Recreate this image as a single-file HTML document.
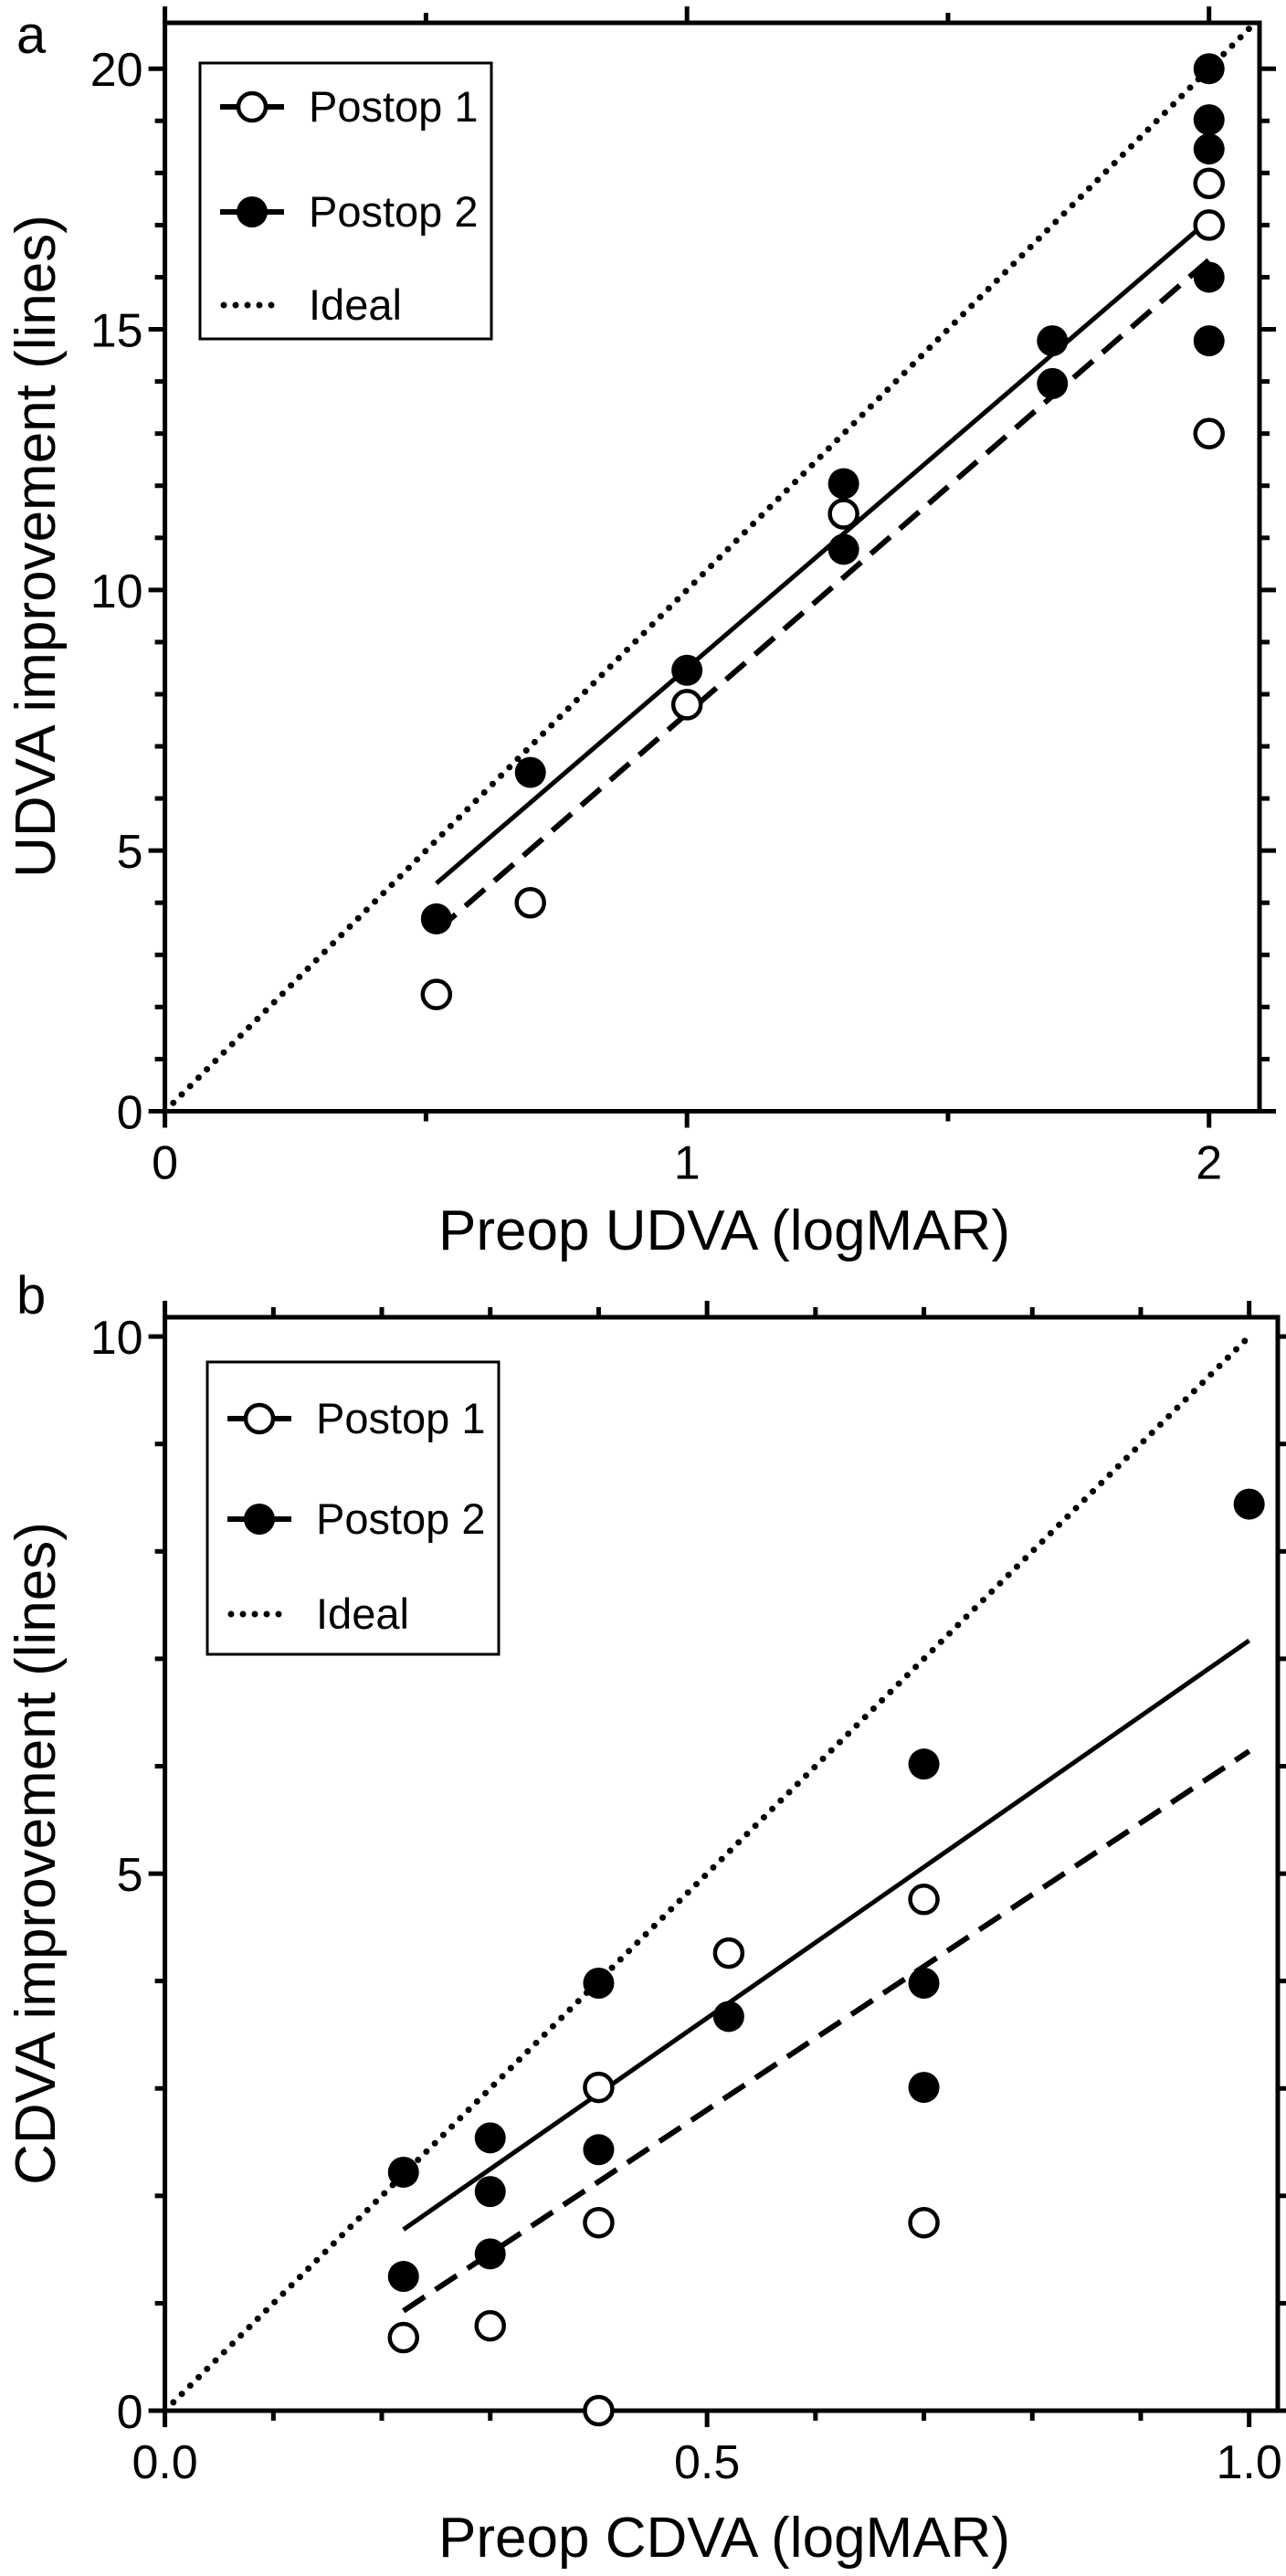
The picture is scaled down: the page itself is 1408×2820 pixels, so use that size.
<!DOCTYPE html>
<html><head><meta charset="utf-8"><style>
html,body{margin:0;padding:0;background:#fff}
svg{display:block}
text{font-family:"Liberation Sans",Arial,sans-serif;fill:#000}
</style></head><body>
<svg id="fig" width="1408" height="2820" viewBox="0 0 1408 2820" xmlns="http://www.w3.org/2000/svg"></svg>
<script>
// Panel a data
const aOpenX = [0.52, 0.7, 1.0, 1.3, 2, 2, 2];
const aOpenY = [2.24, 4.0, 7.8, 11.46, 17.8, 17.0, 13.0];
const aFillX = [0.52, 0.7, 1.0, 1.3, 1.3, 1.7, 1.7, 2, 2, 2, 2, 2];
const aFillY = [3.69, 6.5, 8.46, 12.04, 10.78, 14.78, 13.96, 20, 19.02, 18.46, 16.0, 14.78];
const aFitSolid = [8.6, -0.1];   // slope, intercept (Postop 2)
const aFitDash = [8.7, -1.07];   // slope, intercept (Postop 1)
const aXTicks = ["0", "1", "2"];
const aYTicks = ["0", "5", "10", "15", "20"];
// Panel b data
const bOpenX = [0.22, 0.3, 0.4, 0.4, 0.4, 0.52, 0.7, 0.7];
const bOpenY = [0.68, 0.79, 1.75, 3.01, 0, 4.26, 4.76, 1.75];
const bFillX = [0.22, 0.22, 0.3, 0.3, 0.3, 0.4, 0.4, 0.52, 0.7, 0.7, 0.7, 1.0];
const bFillY = [2.22, 1.25, 2.54, 2.04, 1.46, 3.98, 2.43, 3.67, 6.02, 3.98, 3.01, 8.44];
const bFitSolid = [7.03, 0.14];
const bFitDash = [6.68, -0.54];
const bXTicks = ["0.0", "0.5", "1.0"];
const bYTicks = ["0", "5", "10"];

const NS = "http://www.w3.org/2000/svg";
const svg = document.getElementById("fig");
function mk(tag, attrs, parent) {
  const e = document.createElementNS(NS, tag);
  for (const k in attrs) e.setAttribute(k, attrs[k]);
  (parent || svg).appendChild(e);
  return e;
}

function panel(cfg) {
  const g = mk("g", {});
  
  
  const sx = v => cfg.x0 + (v - cfg.xmin) / (cfg.xmax - cfg.xmin) * (cfg.x1 - cfg.x0);
  const sy = v => cfg.y0 - (v - cfg.ymin) / (cfg.ymax - cfg.ymin) * (cfg.y0 - cfg.y1);
  const fr = mk("rect", {x: cfg.x0, y: cfg.y1, width: cfg.x1 - cfg.x0, height: cfg.y0 - cfg.y1, fill: "none", stroke: "#000", "stroke-width": 5}, g);
  
  
  for (let v = cfg.xmin; v <= cfg.xmax + 1e-9; v += cfg.xMinor) {
    const major = Math.abs(v / cfg.xMajor - Math.round(v / cfg.xMajor)) < 1e-6;
    const L = major ? 18 : 11;
    const X = sx(v);
    const t1 = mk("line", {x1: X, x2: X, y1: cfg.y0, y2: cfg.y0 + L, stroke: "#000", "stroke-width": 5}, g);
    
    
    const t2 = mk("line", {x1: X, x2: X, y1: cfg.y1, y2: cfg.y1 - L, stroke: "#000", "stroke-width": 5}, g);
    
    
  }
  cfg.xTicks.forEach(s => {
    const t = mk("text", {x: sx(parseFloat(s)), y: cfg.y0 + 74, "font-size": 52, "text-anchor": "middle"}, g);
    t.textContent = s;
    
    
  });
  for (let v = cfg.ymin; v <= cfg.ymax + 1e-9; v += cfg.yMinor) {
    const major = Math.abs(v / cfg.yMajor - Math.round(v / cfg.yMajor)) < 1e-6;
    const L = major ? 18 : 11;
    const Y = sy(v);
    const t1 = mk("line", {x1: cfg.x0 - L, x2: cfg.x0, y1: Y, y2: Y, stroke: "#000", "stroke-width": 5}, g);
    
    
    const t2 = mk("line", {x1: cfg.x1, x2: cfg.x1 + L, y1: Y, y2: Y, stroke: "#000", "stroke-width": 5}, g);
    
    
  }
  cfg.yTicks.forEach(s => {
    const t = mk("text", {x: cfg.x0 - 24, y: sy(parseFloat(s)) + 19, "font-size": 52, "text-anchor": "end"}, g);
    t.textContent = s;
    
    
  });
  const id = mk("line", {x1: sx(0), y1: sy(0), x2: sx(cfg.idealEnd), y2: sy(cfg.idealEnd * cfg.idealSlope), stroke: "#000", "stroke-width": 7, "stroke-dasharray": "0 13", "stroke-linecap": "round"}, g);
  
  
  const fs = mk("line", {x1: sx(cfg.fitFrom), y1: sy(cfg.fitS[0] * cfg.fitFrom + cfg.fitS[1]), x2: sx(cfg.fitTo), y2: sy(cfg.fitS[0] * cfg.fitTo + cfg.fitS[1]), stroke: "#000", "stroke-width": 5}, g);
  
  
  const fd = mk("line", {x1: sx(cfg.fitFrom), y1: sy(cfg.fitD[0] * cfg.fitFrom + cfg.fitD[1]), x2: sx(cfg.fitTo), y2: sy(cfg.fitD[0] * cfg.fitTo + cfg.fitD[1]), stroke: "#000", "stroke-width": 6, "stroke-dasharray": "28 14"}, g);
  
  
  cfg.ox.forEach((xv, i) => {
    const c = mk("circle", {cx: sx(xv), cy: sy(cfg.oy[i]), r: 15, fill: "#fff", stroke: "#000", "stroke-width": 4.5}, g);
    
    
  });
  cfg.fx.forEach((xv, i) => {
    const c = mk("circle", {cx: sx(xv), cy: sy(cfg.fy[i]), r: 17, fill: "#000"}, g);
    
    
  });
  const lg = mk("g", {}, g);
  
  
  const L = cfg.leg;
  mk("rect", {x: L.x, y: L.y, width: L.w, height: L.h, fill: "#fff", stroke: "#000", "stroke-width": 3}, lg);
  const rows = [["Postop 1", "open"], ["Postop 2", "fill"], ["Ideal", "dot"]];
  rows.forEach((r, i) => {
    const Y = L.rows[i];
    const e = mk("g", {}, lg);
    
    
    if (r[1] === "dot") {
      mk("line", {x1: L.x + 26, x2: L.x + 90, y1: Y, y2: Y, stroke: "#000", "stroke-width": 7, "stroke-dasharray": "0 13", "stroke-linecap": "round"}, e);
    } else {
      mk("line", {x1: L.x + 22, x2: L.x + 92, y1: Y, y2: Y, stroke: "#000", "stroke-width": 6}, e);
      if (r[1] === "open") mk("circle", {cx: L.x + 57, cy: Y, r: 15, fill: "#fff", stroke: "#000", "stroke-width": 4.5}, e);
      else mk("circle", {cx: L.x + 57, cy: Y, r: 17, fill: "#000"}, e);
    }
    const t = mk("text", {x: L.x + 119, y: Y + 16, "font-size": 47}, e);
    t.textContent = r[0];
  });
  const xt = mk("text", {x: 793, y: cfg.xTitleY, "font-size": 62, "text-anchor": "middle"}, g);
  xt.textContent = cfg.xTitle;
  
  
  const yt = mk("text", {x: 0, y: 0, "font-size": 62, "text-anchor": "middle", transform: "translate(60," + cfg.yTitleC + ") rotate(-90)"}, g);
  yt.textContent = cfg.yTitle;
  
  
  const pl = mk("text", {x: 18, y: cfg.labelY, "font-size": 58}, g);
  pl.textContent = cfg.label;
  
  
}

panel({name: "panel-a-udva", x0: 180.6, x1: 1379, y0: 1216.5, y1: 25, xmin: 0, xmax: 2.0967, ymin: 0, ymax: 20.88,
  xMinor: 0.5, xMajor: 1, yMinor: 1, yMajor: 5, xTicks: aXTicks, yTicks: aYTicks,
  idealEnd: 2.09, idealSlope: 10, fitFrom: 0.52, fitTo: 2, fitS: aFitSolid, fitD: aFitDash,
  ox: aOpenX, oy: aOpenY, fx: aFillX, fy: aFillY,
  leg: {x: 219, y: 69, w: 319, h: 302, rows: [117, 232, 334]},
  xTitle: "Preop UDVA (logMAR)", xTitleY: 1368, yTitle: "UDVA improvement (lines)", yTitleC: 598, label: "a", labelY: 58});

panel({name: "panel-b-cdva", x0: 180.6, x1: 1399, y0: 2639, y1: 1442, xmin: 0, xmax: 1.0264, ymin: 0, ymax: 10.18,
  xMinor: 0.1, xMajor: 0.5, yMinor: 1, yMajor: 5, xTicks: bXTicks, yTicks: bYTicks,
  idealEnd: 1.0, idealSlope: 10, fitFrom: 0.22, fitTo: 1.0, fitS: bFitSolid, fitD: bFitDash,
  ox: bOpenX, oy: bOpenY, fx: bFillX, fy: bFillY,
  leg: {x: 227, y: 1491, w: 319, h: 320, rows: [1553, 1663, 1767]},
  xTitle: "Preop CDVA (logMAR)", xTitleY: 2799, yTitle: "CDVA improvement (lines)", yTitleC: 2029, label: "b", labelY: 1438});
</script>
</body></html>
